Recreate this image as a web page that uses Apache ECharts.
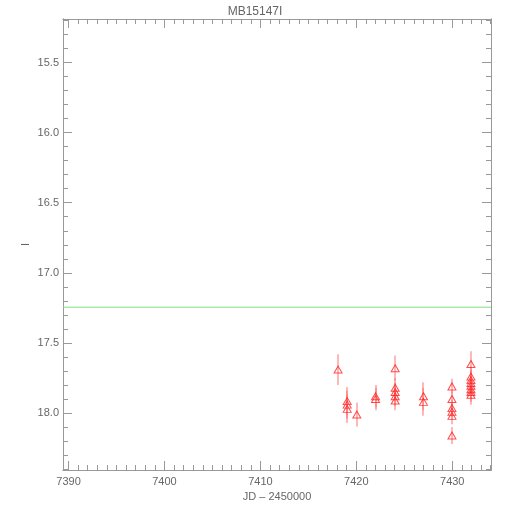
<!DOCTYPE html>
<html>
<head>
<meta charset="utf-8">
<script src="https://cdn.jsdelivr.net/npm/echarts@6/dist/echarts.min.js"></script>
<style>html,body{margin:0;padding:0;background:#fff}#c{width:510px;height:510px}</style>
</head>
<body>
<div id="c"></div>
<script>
// Observations: JD - 2450000, I magnitude, error
const jd  = [7418.1, 7419.05, 7419.05, 7419.05, 7420.05, 7422.0, 7422.0,
             7424.05, 7424.05, 7424.05, 7424.05, 7424.05, 7427.0, 7427.0,
             7429.97, 7429.97, 7429.97, 7429.97, 7429.97, 7429.97,
             7431.95, 7431.95, 7431.95, 7431.95, 7431.95, 7431.95, 7431.95, 7431.95];
const mag = [17.69, 17.915, 17.94, 17.97, 18.01, 17.88, 17.90,
             17.68, 17.82, 17.85, 17.88, 17.91, 17.88, 17.92,
             17.81, 17.90, 17.965, 17.99, 18.02, 18.16,
             17.65, 17.74, 17.765, 17.785, 17.805, 17.83, 17.85, 17.87];
const err = [0.11, 0.1, 0.1, 0.1, 0.085, 0.08, 0.08,
             0.09, 0.07, 0.07, 0.07, 0.07, 0.1, 0.1,
             0.055, 0.06, 0.06, 0.06, 0.06, 0.06,
             0.09, 0.07, 0.07, 0.07, 0.07, 0.07, 0.07, 0.07];
const baseline = 17.245;
const xMajor = [7390, 7400, 7410, 7420, 7430];
const xMinor = [];
for (let v = 7390; v <= 7434; v++) xMinor.push(v);
const yMajor = [15.5, 16.0, 16.5, 17.0, 17.5, 18.0];
const yMinor = [];
for (let i = 152; i <= 184; i++) yMinor.push(i / 10);
const xMin = 7389.42, xMax = 7434.04;
const yMin = 15.19, yMax = 18.406;

const gray = '#999';
const txt = '#666';
const font = 'Liberation Sans';

function xAx(pos, custom, len, labels, name) {
  return {
    type: 'value', position: pos, min: xMin, max: xMax,
    name: name || '', nameLocation: 'middle', nameGap: 20,
    nameTextStyle: {color: txt, fontSize: 11, fontFamily: font},
    axisLine: {show: true, lineStyle: {color: gray, width: 1}},
    axisTick: {show: true, inside: true, length: len, customValues: custom, lineStyle: {color: gray}},
    axisLabel: {show: labels, customValues: xMajor, color: txt, fontSize: 11, fontFamily: font, margin: 6,
      formatter: v => String(Math.round(v))},
    splitLine: {show: false}
  };
}
function yAx(pos, custom, len, labels, name) {
  return {
    type: 'value', position: pos, min: yMin, max: yMax, inverse: true,
    name: name || '', nameLocation: 'middle', nameGap: 32, nameRotate: 90,
    nameMoveOverlap: false,
    nameTextStyle: {color: txt, fontSize: 11, fontFamily: font},
    axisLine: {show: true, lineStyle: {color: gray, width: 1}},
    axisTick: {show: true, inside: true, length: len, customValues: custom, lineStyle: {color: gray}},
    axisLabel: {show: labels, customValues: yMajor, color: txt, fontSize: 11, fontFamily: font, margin: 4,
      formatter: v => v.toFixed(1)},
    splitLine: {show: false}
  };
}

const chart = echarts.init(document.getElementById('c'), null, {renderer: 'canvas'});
chart.setOption({
  backgroundColor: '#fff',
  animation: false,
  title: {text: 'MB15147I', left: 'center', top: 1,
    textStyle: {color: txt, fontSize: 12, fontWeight: 'normal', fontFamily: font}},
  grid: {left: 63, right: 19, top: 19, bottom: 40},
  xAxis: [
    xAx('bottom', xMajor, 9, true, 'JD \u2013 2450000'),
    xAx('bottom', xMinor, 5, false),
    xAx('top', xMajor, 9, false),
    xAx('top', xMinor, 5, false)
  ],
  yAxis: [
    yAx('left', yMajor, 9, true, 'I'),
    yAx('left', yMinor, 5, false),
    yAx('right', yMajor, 9, false),
    yAx('right', yMinor, 5, false)
  ],
  series: [
    {
      type: 'line', xAxisIndex: 0, yAxisIndex: 0, symbol: 'none',
      data: [[xMin, baseline], [xMax, baseline]],
      lineStyle: {color: '#80e080', width: 1}
    },
    {
      type: 'custom', xAxisIndex: 0, yAxisIndex: 0,
      itemStyle: {color: '#ff7070'},
      data: jd.map((x, i) => [x, mag[i] - err[i], mag[i] + err[i]]),
      renderItem: function (params, api) {
        const p1 = api.coord([api.value(0), api.value(1)]);
        const p2 = api.coord([api.value(0), api.value(2)]);
        return {type: 'rect',
          shape: {x: Math.round(p1[0]) - 0.5, y: Math.min(p1[1], p2[1]), width: 1, height: Math.abs(p2[1] - p1[1])},
          style: {fill: '#ff7070', stroke: null}};
      }
    },
    {
      type: 'scatter', xAxisIndex: 0, yAxisIndex: 0,
      symbol: 'triangle', symbolSize: [8, 7],
      data: jd.map((x, i) => [x, mag[i]]),
      itemStyle: {color: 'rgba(0,0,0,0)', borderColor: '#ff2020', borderWidth: 1}
    }
  ]
});
</script>
</body>
</html>
